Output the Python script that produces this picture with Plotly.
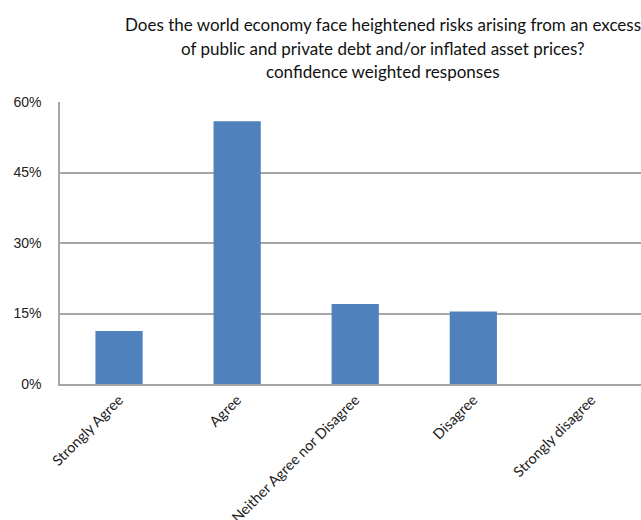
import plotly.graph_objects as go

# Survey answers and their confidence-weighted shares (%)
categories = ["Strongly Agree", "Agree", "Neither Agree nor Disagree", "Disagree", "Strongly disagree"]
shares = [11.3, 55.9, 17.0, 15.4, 0.0]
y_ticks = [0, 15, 30, 45, 60]
y_tick_labels = ["0%", "15%", "30%", "45%", "60%"]
title_lines = [
    "Does the world economy face heightened risks arising from an excess",
    "of public and private debt and/or inflated asset prices?",
    "confidence weighted responses",
]

W, H = 641, 520
ML, MT, MB = 60, 102, 136

fig = go.Figure(
    go.Bar(
        x=categories,
        y=shares,
        marker=dict(color="#4f81bd", line=dict(width=0)),
        width=0.4,
    )
)

# three-line heading, centred over the chart body
for i, line in enumerate(title_lines):
    fig.add_annotation(
        text=line,
        xref="paper", yref="paper",
        x=(383 - ML) / (W - ML), xanchor="center",
        y=1 + (MT - 25 - i * 23.5) / (H - MT - MB), yanchor="middle",
        showarrow=False,
        font=dict(family="Lato", size=17, color="#111111"),
    )

fig.update_layout(
    width=W,
    height=H,
    margin=dict(l=ML, r=0, t=MT, b=MB, pad=0),
    paper_bgcolor="white",
    plot_bgcolor="white",
    showlegend=False,
    xaxis=dict(
        range=[-0.5, 4.42],
        tickangle=-45,
        tickfont=dict(family="Lato", size=14.5, color="#222222"),
        automargin=False,
        showline=True,
        linecolor="#a6a6a6",
        linewidth=1.5,
        showgrid=False,
        ticks="",
    ),
    yaxis=dict(
        range=[0, 60],
        tickvals=y_ticks,
        ticktext=y_tick_labels,
        tickfont=dict(family="Liberation Sans", size=14, color="#222222"),
        ticklabelstandoff=14,
        automargin=False,
        showline=True,
        linecolor="#a6a6a6",
        linewidth=1.5,
        showgrid=True,
        gridcolor="#a6a6a6",
        gridwidth=1.5,
        zeroline=False,
        ticks="",
    ),
)

fig.write_html("out.html")
